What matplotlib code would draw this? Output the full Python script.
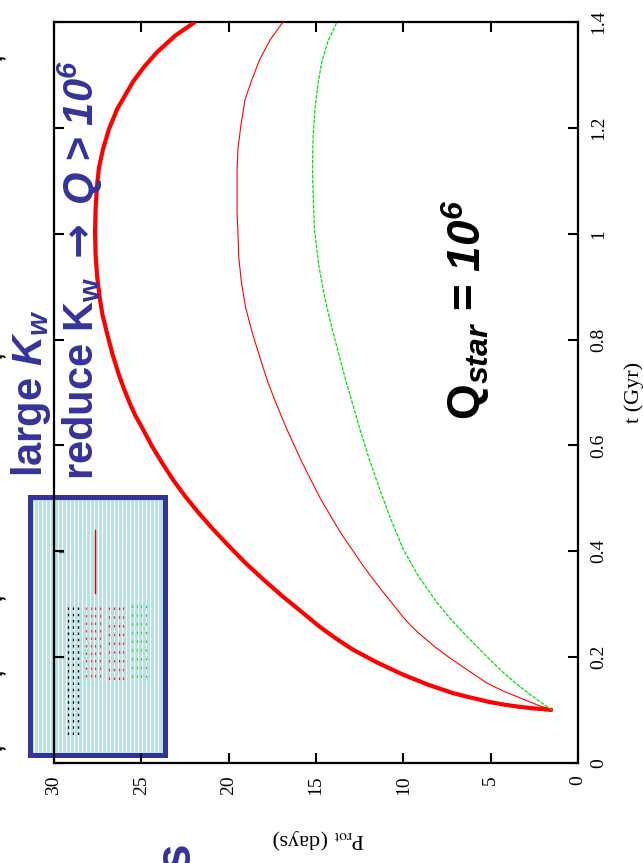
import matplotlib
matplotlib.use("Agg")
import matplotlib.pyplot as plt
from matplotlib.patches import Rectangle
from matplotlib.lines import Line2D
from matplotlib.collections import LineCollection

W, H = 643, 863
DPI = 100

# ---- data: rotation period P_rot (days) versus age t (Gyr) ----
t_thick = [0.100, 0.103, 0.106, 0.110, 0.115, 0.123, 0.132, 0.148, 0.167, 0.189,
           0.214, 0.235, 0.257, 0.286, 0.314, 0.346, 0.378, 0.409, 0.441, 0.473,
           0.503, 0.535, 0.568, 0.598, 0.630, 0.657, 0.681, 0.706, 0.730, 0.772,
           0.814, 0.846, 0.876, 0.919, 0.961, 1.003, 1.046, 1.090, 1.126, 1.160,
           1.198, 1.235, 1.287, 1.315, 1.343, 1.374, 1.400]
p_thick = [1.45, 2.46, 3.32, 4.18, 5.04, 6.07, 7.16, 8.59, 10.02, 11.45,
           12.88, 13.85, 14.77, 15.84, 16.88, 17.99, 19.04, 19.96, 20.88, 21.73,
           22.47, 23.18, 23.83, 24.38, 24.90, 25.35, 25.68, 25.98, 26.25, 26.65,
           26.98, 27.22, 27.37, 27.53, 27.62, 27.65, 27.62, 27.54, 27.42, 27.19,
           26.85, 26.39, 25.48, 24.85, 24.10, 23.07, 21.93]

t_thin = [0.100, 0.110, 0.123, 0.136, 0.151, 0.182, 0.201, 0.218, 0.246, 0.261,
          0.276, 0.303, 0.327, 0.350, 0.373, 0.437, 0.501, 0.568, 0.630, 0.675,
          0.719, 0.766, 0.814, 0.861, 0.908, 0.955, 1.003, 1.041, 1.078, 1.118,
          1.160, 1.207, 1.254, 1.292, 1.330, 1.366, 1.400]
p_thin = [1.45, 2.35, 3.32, 4.29, 5.21, 6.61, 7.45, 8.14, 9.14, 9.61,
          10.02, 10.67, 11.26, 11.79, 12.31, 13.63, 14.77, 15.80, 16.66, 17.23,
          17.75, 18.21, 18.66, 19.03, 19.27, 19.42, 19.47, 19.52, 19.52, 19.52,
          19.47, 19.29, 19.06, 18.66, 18.21, 17.63, 16.89]

t_green = [0.100, 0.121, 0.144, 0.168, 0.195, 0.250, 0.276, 0.303, 0.329, 0.354,
           0.405, 0.462, 0.517, 0.573, 0.630, 0.721, 0.814, 0.876, 0.938, 1.008,
           1.084, 1.122, 1.179, 1.235, 1.283, 1.326, 1.364, 1.400]
p_green = [1.49, 2.40, 3.32, 4.18, 5.04, 6.68, 7.39, 8.07, 8.62, 9.16,
           10.02, 10.73, 11.35, 11.94, 12.48, 13.28, 14.03, 14.48, 14.83, 15.09,
           15.17, 15.20, 15.17, 15.06, 14.89, 14.66, 14.31, 13.80]

p_ticks = [0, 5, 10, 15, 20, 25, 30]
t_ticks = [0, 0.2, 0.4, 0.6, 0.8, 1.0, 1.2, 1.4]
t_tick_labels = ["0", "0.2", "0.4", "0.6", "0.8", "1", "1.2", "1.4"]

BLUE = "#333399"

plt.rcParams["mathtext.fontset"] = "custom"
plt.rcParams["mathtext.rm"] = "Liberation Sans:bold"
plt.rcParams["mathtext.it"] = "Liberation Sans:bold:italic"
plt.rcParams["mathtext.bf"] = "Liberation Sans:bold:italic"
plt.rcParams["mathtext.sf"] = "DejaVu Sans:bold"

fig = plt.figure(figsize=(W / DPI, H / DPI), dpi=DPI)


def fx(x):
    return x / W


def fy(y):
    return 1 - y / H


# plot frame (the whole chart is turned a quarter turn counter-clockwise)
left, right, top, bottom = 54, 578, 22, 763
ax = fig.add_axes([fx(left), fy(bottom), (right - left) / W, (bottom - top) / H])

ax.plot(p_thick, t_thick, color="#ff0000", lw=3.0, solid_capstyle="butt",
        solid_joinstyle="round", zorder=3)
ax.plot(p_thin, t_thin, color="#ff0000", lw=0.8, zorder=3)
ax.plot(p_green, t_green, color="#00e000", lw=0.9, dashes=(3, 1), zorder=3)

ax.set_xlim(30, 0)
ax.set_ylim(0, 1.4)
ax.set_xticks(p_ticks)
ax.set_xticklabels([str(v) for v in p_ticks], rotation=90,
                   family="Liberation Serif", fontsize=14)
ax.set_yticks(t_ticks)
ax.set_yticklabels(t_tick_labels, rotation=90, va="center",
                   family="Liberation Serif", fontsize=14)
ax.yaxis.tick_right()
ax.tick_params(axis="both", direction="in", length=7, width=1.5,
               top=True, bottom=True, left=True, right=True)
ax.tick_params(axis="x", pad=9)
ax.tick_params(axis="y", pad=9)
for s in ax.spines.values():
    s.set_linewidth(1.6)

ax.yaxis.set_label_position("right")
ax.set_ylabel("t (Gyr)", rotation=90, family="Liberation Serif", fontsize=16,
              labelpad=12)
fig.text(fx(318), fy(839), r"P$_{\rm rot}$ (days)", rotation=180,
         ha="center", va="center", family="Liberation Serif", fontsize=16,
         math_fontfamily="stix")

# key box overlapping the lower-left corner of the frame
box = Rectangle((fx(29.5), fy(755)), fx(135), 258 / H, transform=fig.transFigure,
                facecolor="#b9e0e3", edgecolor=BLUE, lw=3.6, clip_on=False, zorder=1)
ax.add_patch(box)
stripes = [[(fx(x), fy(501)), (fx(x), fy(752))] for x in range(34, 162, 4)]
ax.add_collection(LineCollection(stripes, colors="white", linewidths=0.8,
                                 transform=fig.transFigure, clip_on=False, zorder=1.1))


# faint key entries
def key_marks(xs, y0, y1, color, dash):
    for x in xs:
        ln = Line2D([fx(x), fx(x)], [fy(y0), fy(y1)], transform=fig.transFigure,
                    color=color, lw=0.9, dashes=dash, clip_on=False, zorder=1.2)
        ax.add_line(ln)


key_marks([68, 73, 78], 607, 737, "black", (2, 3))
key_marks([86, 91, 95, 100], 607, 682, "#ff3030", (2, 4))
key_marks([109, 114, 119, 123], 607, 682, "#ff2020", (2, 5))
key_marks([132, 137, 141, 146], 605, 682, "#20e020", (2, 5))
ax.add_line(Line2D([fx(95), fx(95)], [fy(530), fy(593)], transform=fig.transFigure,
                   color="#dd0000", lw=1.0, clip_on=False, zorder=1.2))
for y in (552, 657):
    ax.add_line(Line2D([fx(59), fx(63)], [fy(y), fy(y)], transform=fig.transFigure,
                       color="#555555", lw=1.0, clip_on=False, zorder=1.2))

# annotations
fig.text(fx(31), fy(393), r"large $K_w$", rotation=90, ha="center", va="center",
         color=BLUE, fontsize=30, fontweight="bold", family="Liberation Sans")
fig.text(fx(80), fy(270),
         r"reduce K$_\mathrm{w}$ $\mathsf{\rightarrow}$ $Q$ > $\mathbf{10}^{\mathbf{6}}$",
         rotation=90, ha="center", va="center", color=BLUE, fontsize=30,
         fontweight="bold", family="Liberation Sans")
fig.text(fx(466), fy(310), r"$\mathrm{Q}_{star}$ = $\mathbf{10}^{\mathbf{6}}$",
         rotation=90, ha="center", va="center", color="black", fontsize=33,
         fontweight="bold", family="Liberation Sans")
fig.text(fx(176), fy(856), "s", rotation=90, ha="center", va="center",
         color=BLUE, fontsize=36, fontweight="bold", family="Liberation Sans")

# fragments of neighbouring text at the left edge
for y in (57, 355, 597, 672, 747):
    fig.text(fx(-4), fy(y), ",", rotation=90, ha="center", va="center",
             color="black", fontsize=16, fontweight="bold", family="Liberation Sans")

fig.savefig("out.png", dpi=DPI)
